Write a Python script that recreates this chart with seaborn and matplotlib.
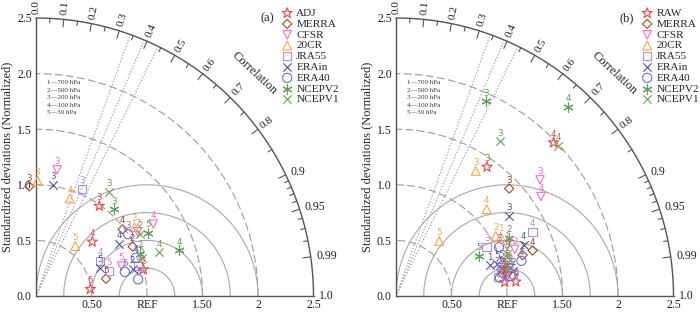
import numpy as np
import pandas as pd
import matplotlib
matplotlib.use("Agg")
import matplotlib.pyplot as plt
import seaborn as sns

# ---------------- data ----------------
names_a = ["ADJ", "MERRA", "CFSR", "20CR", "JRA55", "ERAin", "ERA40", "NCEPV2", "NCEPV1"]
names_b = ["RAW", "MERRA", "CFSR", "20CR", "JRA55", "ERAin", "ERA40", "NCEPV2", "NCEPV1"]
levels = [1, 2, 3, 4, 5]
level_notes = ["1\u2014700 hPa", "2\u2014500 hPa", "3\u2014200 hPa", "4\u2014100 hPa", "5\u201450 hPa"]

nan = np.nan
# panel (a): normalized standard deviation per dataset, levels 1..5
std_a = [
    [nan, 0.996, 0.990, 0.703, 0.494],   # ADJ
    [nan, 0.977, 0.987, 0.984, 0.649],   # MERRA
    [nan, 1.083, 1.151, 1.239, 0.816],   # CFSR
    [nan, 1.081, 1.036, 0.929, 0.572],   # 20CR
    [nan, 0.959, 1.048, 0.657, 0.697],   # JRA55
    [nan, 0.903, 1.009, 0.881, 0.631],   # ERAin
    [nan, 0.932, 0.999, 0.964, 0.829],   # ERA40
    [nan, 1.014, 1.051, 1.354, 1.157],   # NCEPV2
    [nan, 1.092, 1.146, 1.177, 1.009],   # NCEPV1
]
corr_a = [
    [nan, 0.971, 0.576, 0.721, 0.992],
    [nan, 0.891, -0.061, 0.793, 0.971],
    [nan, 0.846, 0.165, 0.853, 0.944],
    [nan, 0.820, 0.014, 0.329, 0.619],
    [nan, 0.959, 0.398, 0.878, 0.947],
    [nan, 0.964, 0.155, 0.849, 0.915],
    [nan, 0.987, 0.831, 0.934, 0.965],
    [nan, 0.927, 0.671, 0.953, 0.873],
    [nan, 0.858, 0.576, 0.943, 0.942],
]
# panel (b)
std_b = [
    [0.988, 1.020, 1.421, 1.980, 1.087],  # RAW
    [0.981, 1.198, 1.405, 1.297, 0.980],  # MERRA
    [1.099, 1.149, 1.666, 1.583, 1.044],  # CFSR
    [1.084, 1.048, 1.335, 1.130, 0.630],  # 20CR
    [0.936, 1.069, 0.928, 1.359, 0.975],  # JRA55
    [0.891, 1.081, 1.248, 1.237, 0.951],  # ERAin
    [0.951, 1.046, 1.027, 1.173, 0.996],  # ERA40
    [1.038, 1.147, 1.928, 2.304, 0.832],  # NCEPV2
    [1.060, 1.059, 1.676, 1.985, 1.070],  # NCEPV1
]
corr_b = [
    [0.992, 0.981, 0.577, 0.717, 0.993],
    [0.979, 0.952, 0.726, 0.949, 0.970],
    [0.910, 0.931, 0.779, 0.825, 0.958],
    [0.872, 0.857, 0.538, 0.723, 0.619],
    [0.983, 0.982, 0.880, 0.905, 0.974],
    [0.951, 0.978, 0.817, 0.929, 0.954],
    [0.985, 0.985, 0.904, 0.963, 0.954],
    [0.963, 0.889, 0.420, 0.673, 0.902],
    [0.972, 0.944, 0.559, 0.735, 0.935],
]
corr_major = [0.0, 0.1, 0.2, 0.3, 0.4, 0.5, 0.6, 0.7, 0.8, 0.9, 0.95, 0.99]
corr_minor = [0.05, 0.15, 0.25, 0.35, 0.45, 0.55, 0.65, 0.75, 0.85,
              0.91, 0.92, 0.93, 0.94, 0.96, 0.97, 0.98]
signif_corr = [0.34, 0.39, 0.44]

# ---------------- styles ----------------
colors = ["#f04848", "#a04a30", "#ff6ab0", "#ffa24a", "#b490d8",
          "#4e4eaa", "#6e6ed6", "#5f9e5f", "#6e9a5c"]
markers = ["*", "D", "v", "^", "s", "x", "o", (6, 2, 0), "x"]
sizes = [60, 22, 36, 40, 36, 36, 44, 44, 36]

sns.set_theme(style="white")
plt.rcParams['font.family'] = ['Liberation Serif', 'DejaVu Sans']

W, H = 700, 312
fig = plt.figure(figsize=(7.0, 3.12), dpi=100)

GRID = "#a8a8a8"
FRAME = "#555555"


def draw_panel(ax, names, std, corr, tag):
    ax.set_xlim(0, 2.5)
    ax.set_ylim(0, 2.5)
    for s in ["top", "right"]:
        ax.spines[s].set_visible(False)
    for s in ["left", "bottom"]:
        ax.spines[s].set_color(FRAME)
        ax.spines[s].set_linewidth(1.0)

    t = np.linspace(0, np.pi / 2, 400)
    ax.plot(2.5 * np.cos(t), 2.5 * np.sin(t), color=FRAME, lw=1.0, clip_on=False, zorder=2)
    for r in [0.5, 1.0, 1.5, 2.0]:
        ax.plot(r * np.cos(t), r * np.sin(t), color="#9c9c9c", lw=0.8, dashes=(7, 3), zorder=1)
    t2 = np.linspace(0, np.pi, 400)
    for r in [0.25, 0.5, 0.75, 1.0]:
        ax.plot(1 + r * np.cos(t2), r * np.sin(t2), color=GRID, lw=0.8, zorder=1)
    for c in signif_corr:
        th = np.arccos(c)
        ax.plot([0, 2.5 * np.cos(th)], [0, 2.5 * np.sin(th)], color="#9c9c9c",
                lw=0.8, dashes=(1.2, 1.6), zorder=1)

    # correlation ticks
    for c, ln in [(c, 0.07) for c in corr_major] + [(c, 0.04) for c in corr_minor]:
        th = np.arccos(c)
        ax.plot([2.5 * np.cos(th), (2.5 - ln) * np.cos(th)],
                [2.5 * np.sin(th), (2.5 - ln) * np.sin(th)], color=FRAME, lw=0.8,
                clip_on=False)
    for c in corr_major:
        th = np.arccos(c)
        lab = f"{c:.1f}" if c not in (0.95, 0.99) else f"{c:.2f}"
        if c >= 0.9:
            ax.text(2.55 * np.cos(th), 2.55 * np.sin(th), lab, fontsize=8.5,
                    ha="left", va="center", color="#222")
        else:
            ax.text(2.54 * np.cos(th), 2.54 * np.sin(th), lab, fontsize=8.2,
                    rotation=np.degrees(th), rotation_mode="anchor",
                    ha="left", va="center", color="#222")
    ax.text(2.55, 0.0, "1.0", fontsize=8.5, ha="left", va="center", color="#222")
    ax.text(1.97, 2.0, "Correlation", fontsize=9, rotation=-43, ha="center",
            va="center", color="#222")

    # data
    for i, name in enumerate(names):
        df = pd.DataFrame({"level": levels, "std": std[i], "corr": corr[i]})
        df["x"] = df["std"] * df["corr"]
        df["y"] = df["std"] * np.sqrt(1 - df["corr"] ** 2)
        col = colors[i]
        m = markers[i]
        kw = dict(marker=m, s=sizes[i], linewidth=0.8, zorder=4, label=name, ax=ax)
        if m in ["x"] or isinstance(m, tuple):
            sns.scatterplot(data=df, x="x", y="y", color=col, **kw)
        else:
            sns.scatterplot(data=df, x="x", y="y", facecolor="none", edgecolor=col, **kw)
        for _, r in df.dropna().iterrows():
            ax.text(r["x"], r["y"] + 0.075, str(int(r["level"])), color=col,
                    fontsize=6.3, ha="center", va="center", family="DejaVu Sans", zorder=5)
    for coll in ax.collections:
        coll.set_clip_on(False)

    ax.set_xlabel("")
    ax.set_ylabel("Standardized deviations (Normalized)", fontsize=9, labelpad=3)
    ax.set_yticks([0, 0.5, 1.0, 1.5, 2.0, 2.5])
    ax.set_yticklabels(["0.0", "0.5", "1.0", "1.5", "2.0", "2.5"])
    xt = [0, 0.25, 0.5, 0.75, 1.0, 1.25, 1.5, 1.75, 2.0, 2.25, 2.5]
    ax.set_xticks(xt)
    ax.set_xticklabels(["", "", "0.50", "", "REF", "", "1.50", "", "2", "", "2.5"])
    ax.tick_params(axis="both", direction="in", length=3, width=0.8, color=FRAME,
                   labelsize=8.5, pad=3, labelcolor="#222")
    ax.tick_params(axis="x", pad=2.5)

    for j, note in enumerate(level_notes):
        ax.text(0.10, 1.92 - j * 0.068, note, fontsize=5, ha="left", va="center", color="#333")
    ax.text(2.08, 2.5, tag, fontsize=9, ha="center", va="center", color="#222")
    ax.legend(loc="upper left", bbox_to_anchor=(0.885, 1.035), frameon=False,
              fontsize=8.1, handlelength=1.0, handletextpad=0.3, labelspacing=0.08,
              borderpad=0, borderaxespad=0)


axA = fig.add_axes([36 / W, 16 / H, 277.5 / W, 278 / H])
axB = fig.add_axes([396 / W, 16 / H, 277.5 / W, 278 / H])
draw_panel(axA, names_a, std_a, corr_a, "(a)")
draw_panel(axB, names_b, std_b, corr_b, "(b)")

fig.savefig("out.png", dpi=100)
